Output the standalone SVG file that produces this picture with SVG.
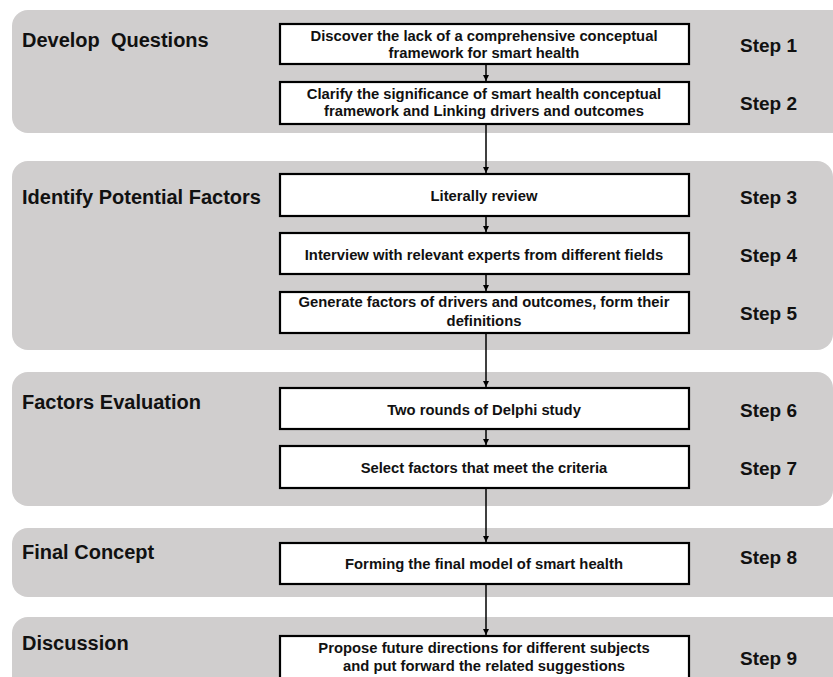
<svg xmlns="http://www.w3.org/2000/svg" width="833" height="677" viewBox="0 0 833 677">
<defs>
<style>
.band{fill:#d0cece;}
.box{fill:#ffffff;stroke:#000000;stroke-width:2.2;}
.lbl{font-family:"Liberation Sans",Arial,sans-serif;font-weight:bold;font-size:20px;fill:#111;}
.step{font-family:"Liberation Sans",Arial,sans-serif;font-weight:bold;font-size:19px;fill:#111;}
.txt{font-family:"Liberation Sans",Arial,sans-serif;font-weight:bold;font-size:14.8px;fill:#111;text-anchor:middle;}
.con{stroke:#000;stroke-width:1.5;fill:none;marker-end:url(#arr);}
</style>
<marker id="arr" viewBox="0 0 10 10" refX="10" refY="5" markerWidth="4" markerHeight="4" orient="auto" markerUnits="strokeWidth">
<path d="M0,0 L10,5 L0,10 z" fill="#000"/>
</marker>
</defs>
<g id="bands">
<rect class="band" x="12" y="10" width="840" height="123" rx="16"/>
<rect class="band" x="12" y="161" width="821" height="189" rx="16"/>
<rect class="band" x="12" y="372" width="821" height="134" rx="16"/>
<rect class="band" x="12" y="528" width="840" height="69" rx="16"/>
<rect class="band" x="12" y="617" width="840" height="90" rx="16"/>
</g>
<g id="phase-labels">
<text class="lbl" x="22" y="47" xml:space="preserve">Develop  Questions</text>
<text class="lbl" x="22" y="204">Identify Potential Factors</text>
<text class="lbl" x="22" y="409">Factors Evaluation</text>
<text class="lbl" x="22" y="559">Final Concept</text>
<text class="lbl" x="22" y="650">Discussion</text>
</g>
<g id="connectors">
<line class="con" x1="486" y1="65" x2="486" y2="81"/>
<line class="con" x1="486" y1="125" x2="486" y2="173"/>
<line class="con" x1="486" y1="217" x2="486" y2="232"/>
<line class="con" x1="486" y1="275" x2="486" y2="291"/>
<line class="con" x1="486" y1="334" x2="486" y2="387"/>
<line class="con" x1="486" y1="430" x2="486" y2="445"/>
<line class="con" x1="486" y1="489" x2="486" y2="542"/>
<line class="con" x1="486" y1="585" x2="486" y2="635"/>
</g>
<g id="step1">
<rect class="box" x="280" y="24" width="409" height="40"/>
<text class="txt" x="484" y="40.5">Discover the lack of a comprehensive conceptual</text>
<text class="txt" x="484" y="58">framework for smart health</text>
<text class="step" x="740" y="52">Step 1</text>
</g>
<g id="step2">
<rect class="box" x="280" y="82" width="409" height="42"/>
<text class="txt" x="484" y="98.5">Clarify the significance of smart health conceptual</text>
<text class="txt" x="484" y="115.5">framework and Linking drivers and outcomes</text>
<text class="step" x="740" y="110">Step 2</text>
</g>
<g id="step3">
<rect class="box" x="280" y="174" width="409" height="42"/>
<text class="txt" x="484" y="201">Literally review</text>
<text class="step" x="740" y="204">Step 3</text>
</g>
<g id="step4">
<rect class="box" x="280" y="233" width="409" height="41"/>
<text class="txt" x="484" y="260">Interview with relevant experts from different fields</text>
<text class="step" x="740" y="262">Step 4</text>
</g>
<g id="step5">
<rect class="box" x="280" y="292" width="409" height="41"/>
<text class="txt" x="484" y="307">Generate factors of drivers and outcomes, form their</text>
<text class="txt" x="484" y="326">definitions</text>
<text class="step" x="740" y="320">Step 5</text>
</g>
<g id="step6">
<rect class="box" x="280" y="388" width="409" height="41"/>
<text class="txt" x="484" y="415">Two rounds of Delphi study</text>
<text class="step" x="740" y="417">Step 6</text>
</g>
<g id="step7">
<rect class="box" x="280" y="446" width="409" height="42"/>
<text class="txt" x="484" y="473">Select factors that meet the criteria</text>
<text class="step" x="740" y="475">Step 7</text>
</g>
<g id="step8">
<rect class="box" x="280" y="543" width="409" height="41"/>
<text class="txt" x="484" y="569">Forming the final model of smart health</text>
<text class="step" x="740" y="564">Step 8</text>
</g>
<g id="step9">
<rect class="box" x="280" y="636" width="409" height="60"/>
<text class="txt" x="484" y="653">Propose future directions for different subjects</text>
<text class="txt" x="484" y="671">and put forward the related suggestions</text>
<text class="step" x="740" y="665">Step 9</text>
</g>
</svg>
